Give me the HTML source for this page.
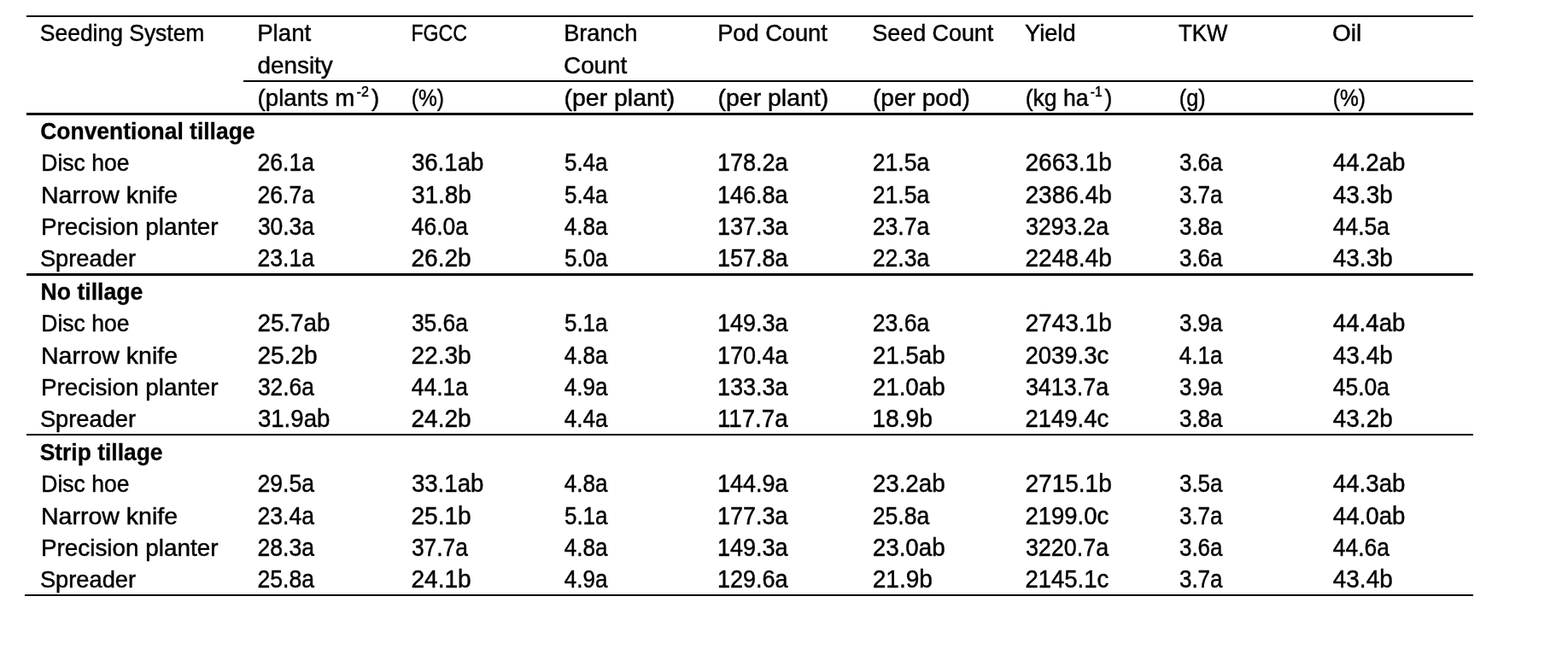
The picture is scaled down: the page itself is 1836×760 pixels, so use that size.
<!DOCTYPE html>
<html lang="en">
<head>
<meta charset="utf-8">
<title>Seeding system results table</title>
<style>
html,body{margin:0;padding:0;background:#fff}
body{width:1836px;height:760px;overflow:hidden;position:relative;color:#000;font-family:"Liberation Sans",sans-serif}
div.wrap{position:absolute;left:31px;top:18px;width:1694px;height:680px}
div.wrap::after{content:"";position:absolute;left:-2px;right:0;top:678px;height:2px;background:#000}
table{width:1694px;border-collapse:separate;border-spacing:0;table-layout:fixed;font-size:27.4px;line-height:30px}
col.c0{width:254px}
col.cn{width:180px}
th,td{box-sizing:border-box;padding:0;margin:0;border:0;text-align:left;vertical-align:top;font-weight:normal;white-space:nowrap;overflow:visible}
td{font-size:28.8px}
tr.h1 th{height:76px;border-top:2px solid #000;padding-top:0px;line-height:37px}
tr.h1 br+.x{position:relative;top:1px}
tr.h2 th{height:38px;border-top:2px solid transparent;padding-top:4px}
tr.h2 th.u{border-top-color:#000}
tr.g th{height:38px;border-top:3px solid #000;font-weight:bold;padding-top:4px}
tr.a th{height:37px;padding-top:6px}
tr.a td{height:37px;padding-top:5px}
tr.b th{height:38px;padding-top:7px}
tr.b td{height:38px;padding-top:6px}
tr.c th{height:38px;padding-top:6px}
tr.c td{height:38px;padding-top:5px}
tr.g3 th{border-top-width:2px;padding-top:5px}
.x{display:inline-block;transform-origin:0 0;white-space:nowrap;-webkit-text-stroke:0.45px #000;}
tr.g .x{-webkit-text-stroke-width:0.3px}
sup{font-size:0.58em;line-height:0;vertical-align:baseline;position:relative;top:-0.7em;margin:0 0.2em 0 0.15em}

</style>
</head>
<body>
<div class="wrap">
<table>
<colgroup><col class="c0"><col class="cn"><col class="cn"><col class="cn"><col class="cn"><col class="cn"><col class="cn"><col class="cn"><col class="cn"></colgroup>
<thead>
<tr class="h1"><th scope="col"><span class="x" style="transform:matrix(0.9654,0,0,1,15.85,0)">Seeding System</span></th><th scope="col"><span class="x" style="transform:matrix(1.0099,0,0,1,16.16,0)">Plant</span><br><span class="x" style="transform:matrix(1.0169,0,0,1,16.49,0)">density</span></th><th scope="col"><span class="x" style="transform:matrix(0.8436,0,0,1,16.51,0)">FGCC</span></th><th scope="col"><span class="x" style="transform:matrix(0.9917,0,0,1,15.20,0)">Branch</span><br><span class="x" style="transform:matrix(1.0156,0,0,1,15.05,0)">Count</span></th><th scope="col"><span class="x" style="transform:matrix(0.9934,0,0,1,15.19,0)">Pod Count</span></th><th scope="col"><span class="x" style="transform:matrix(0.9811,0,0,1,16.34,0)">Seed Count</span></th><th scope="col"><span class="x" style="transform:matrix(0.9947,0,0,1,14.97,0)">Yield</span></th><th scope="col"><span class="x" style="transform:matrix(0.9415,0,0,1,15.00,0)">TKW</span></th><th scope="col"><span class="x" style="transform:matrix(1.0225,0,0,1,15.05,0)">Oil</span></th></tr>
<tr class="h2"><th></th><th class="u"><span class="x" style="transform:matrix(1.0084,0,0,1,16.62,0)">(plants m<sup>-2</sup>)</span></th><th class="u"><span class="x" style="transform:matrix(0.8953,0,0,1,16.77,0)">(%)</span></th><th class="u"><span class="x" style="transform:matrix(1.0381,0,0,1,15.59,0)">(per plant)</span></th><th class="u"><span class="x" style="transform:matrix(1.0381,0,0,1,15.59,0)">(per plant)</span></th><th class="u"><span class="x" style="transform:matrix(1.0257,0,0,1,16.90,0)">(per pod)</span></th><th class="u"><span class="x" style="transform:matrix(0.9695,0,0,1,15.67,0)">(kg ha<sup>-1</sup>)</span></th><th class="u"><span class="x" style="transform:matrix(0.9222,0,0,1,15.73,0)">(g)</span></th><th class="u"><span class="x" style="transform:matrix(0.8953,0,0,1,15.77,0)">(%)</span></th></tr>
</thead>
<tbody>
<tr class="g"><th colspan="9" scope="colgroup"><span class="x" style="transform:matrix(0.9655,0,0,1,16.25,0)">Conventional tillage</span></th></tr>
<tr class="a"><th scope="row"><span class="x" style="transform:matrix(0.9680,0,0,1,17.25,0)">Disc hoe</span></th><td><span class="x" style="transform:matrix(0.9222,0,0,1,16.51,0)">26.1a</span></td><td><span class="x" style="transform:matrix(0.9591,0,0,1,16.90,0)">36.1ab</span></td><td><span class="x" style="transform:matrix(0.9007,0,0,1,15.95,0)">5.4a</span></td><td><span class="x" style="transform:matrix(0.9371,0,0,1,15.01,0)">178.2a</span></td><td><span class="x" style="transform:matrix(0.9222,0,0,1,16.81,0)">21.5a</span></td><td><span class="x" style="transform:matrix(0.9737,0,0,1,15.44,0)">2663.1b</span></td><td><span class="x" style="transform:matrix(0.9007,0,0,1,15.95,0)">3.6a</span></td><td><span class="x" style="transform:matrix(0.9597,0,0,1,15.85,0)">44.2ab</span></td></tr>
<tr class="b"><th scope="row"><span class="x" style="transform:matrix(1.0415,0,0,1,16.99,0)">Narrow knife</span></th><td><span class="x" style="transform:matrix(0.9222,0,0,1,16.51,0)">26.7a</span></td><td><span class="x" style="transform:matrix(0.9683,0,0,1,16.89,0)">31.8b</span></td><td><span class="x" style="transform:matrix(0.9007,0,0,1,15.95,0)">5.4a</span></td><td><span class="x" style="transform:matrix(0.9371,0,0,1,15.01,0)">146.8a</span></td><td><span class="x" style="transform:matrix(0.9222,0,0,1,16.81,0)">21.5a</span></td><td><span class="x" style="transform:matrix(0.9737,0,0,1,15.44,0)">2386.4b</span></td><td><span class="x" style="transform:matrix(0.9007,0,0,1,15.95,0)">3.7a</span></td><td><span class="x" style="transform:matrix(0.9689,0,0,1,15.84,0)">43.3b</span></td></tr>
<tr class="a"><th scope="row"><span class="x" style="transform:matrix(1.0175,0,0,1,16.94,0)">Precision planter</span></th><td><span class="x" style="transform:matrix(0.9164,0,0,1,16.93,0)">30.3a</span></td><td><span class="x" style="transform:matrix(0.9174,0,0,1,16.87,0)">46.0a</span></td><td><span class="x" style="transform:matrix(0.9020,0,0,1,15.87,0)">4.8a</span></td><td><span class="x" style="transform:matrix(0.9371,0,0,1,15.01,0)">137.3a</span></td><td><span class="x" style="transform:matrix(0.9222,0,0,1,16.81,0)">23.7a</span></td><td><span class="x" style="transform:matrix(0.9335,0,0,1,15.92,0)">3293.2a</span></td><td><span class="x" style="transform:matrix(0.9007,0,0,1,15.95,0)">3.8a</span></td><td><span class="x" style="transform:matrix(0.9174,0,0,1,15.87,0)">44.5a</span></td></tr>
<tr class="c"><th scope="row"><span class="x" style="transform:matrix(0.9951,0,0,1,15.93,0)">Spreader</span></th><td><span class="x" style="transform:matrix(0.9222,0,0,1,16.51,0)">23.1a</span></td><td><span class="x" style="transform:matrix(0.9746,0,0,1,16.44,0)">26.2b</span></td><td><span class="x" style="transform:matrix(0.9007,0,0,1,15.95,0)">5.0a</span></td><td><span class="x" style="transform:matrix(0.9371,0,0,1,15.01,0)">157.8a</span></td><td><span class="x" style="transform:matrix(0.9222,0,0,1,16.81,0)">22.3a</span></td><td><span class="x" style="transform:matrix(0.9737,0,0,1,15.44,0)">2248.4b</span></td><td><span class="x" style="transform:matrix(0.9007,0,0,1,15.95,0)">3.6a</span></td><td><span class="x" style="transform:matrix(0.9689,0,0,1,15.84,0)">43.3b</span></td></tr>
<tr class="g"><th colspan="9" scope="colgroup"><span class="x" style="transform:matrix(0.9719,0,0,1,16.57,0)">No tillage</span></th></tr>
<tr class="a"><th scope="row"><span class="x" style="transform:matrix(0.9680,0,0,1,17.25,0)">Disc hoe</span></th><td><span class="x" style="transform:matrix(0.9642,0,0,1,16.46,0)">25.7ab</span></td><td><span class="x" style="transform:matrix(0.9164,0,0,1,16.93,0)">35.6a</span></td><td><span class="x" style="transform:matrix(0.9007,0,0,1,15.95,0)">5.1a</span></td><td><span class="x" style="transform:matrix(0.9371,0,0,1,15.01,0)">149.3a</span></td><td><span class="x" style="transform:matrix(0.9222,0,0,1,16.81,0)">23.6a</span></td><td><span class="x" style="transform:matrix(0.9737,0,0,1,15.44,0)">2743.1b</span></td><td><span class="x" style="transform:matrix(0.9007,0,0,1,15.95,0)">3.9a</span></td><td><span class="x" style="transform:matrix(0.9597,0,0,1,15.85,0)">44.4ab</span></td></tr>
<tr class="b"><th scope="row"><span class="x" style="transform:matrix(1.0415,0,0,1,16.99,0)">Narrow knife</span></th><td><span class="x" style="transform:matrix(0.9746,0,0,1,16.44,0)">25.2b</span></td><td><span class="x" style="transform:matrix(0.9746,0,0,1,16.44,0)">22.3b</span></td><td><span class="x" style="transform:matrix(0.9020,0,0,1,15.87,0)">4.8a</span></td><td><span class="x" style="transform:matrix(0.9371,0,0,1,15.01,0)">170.4a</span></td><td><span class="x" style="transform:matrix(0.9642,0,0,1,16.76,0)">21.5ab</span></td><td><span class="x" style="transform:matrix(0.9538,0,0,1,15.47,0)">2039.3c</span></td><td><span class="x" style="transform:matrix(0.9020,0,0,1,15.87,0)">4.1a</span></td><td><span class="x" style="transform:matrix(0.9689,0,0,1,15.84,0)">43.4b</span></td></tr>
<tr class="a"><th scope="row"><span class="x" style="transform:matrix(1.0175,0,0,1,16.94,0)">Precision planter</span></th><td><span class="x" style="transform:matrix(0.9164,0,0,1,16.93,0)">32.6a</span></td><td><span class="x" style="transform:matrix(0.9174,0,0,1,16.87,0)">44.1a</span></td><td><span class="x" style="transform:matrix(0.9020,0,0,1,15.87,0)">4.9a</span></td><td><span class="x" style="transform:matrix(0.9371,0,0,1,15.01,0)">133.3a</span></td><td><span class="x" style="transform:matrix(0.9642,0,0,1,16.76,0)">21.0ab</span></td><td><span class="x" style="transform:matrix(0.9335,0,0,1,15.92,0)">3413.7a</span></td><td><span class="x" style="transform:matrix(0.9007,0,0,1,15.95,0)">3.9a</span></td><td><span class="x" style="transform:matrix(0.9174,0,0,1,15.87,0)">45.0a</span></td></tr>
<tr class="c"><th scope="row"><span class="x" style="transform:matrix(0.9951,0,0,1,15.93,0)">Spreader</span></th><td><span class="x" style="transform:matrix(0.9591,0,0,1,16.90,0)">31.9ab</span></td><td><span class="x" style="transform:matrix(0.9746,0,0,1,16.44,0)">24.2b</span></td><td><span class="x" style="transform:matrix(0.9020,0,0,1,15.87,0)">4.4a</span></td><td><span class="x" style="transform:matrix(0.9607,0,0,1,14.97,0)">117.7a</span></td><td><span class="x" style="transform:matrix(0.9818,0,0,1,16.23,0)">18.9b</span></td><td><span class="x" style="transform:matrix(0.9538,0,0,1,15.47,0)">2149.4c</span></td><td><span class="x" style="transform:matrix(0.9007,0,0,1,15.95,0)">3.8a</span></td><td><span class="x" style="transform:matrix(0.9689,0,0,1,15.84,0)">43.2b</span></td></tr>
<tr class="g g3"><th colspan="9" scope="colgroup"><span class="x" style="transform:matrix(0.9645,0,0,1,15.67,0)">Strip tillage</span></th></tr>
<tr class="a"><th scope="row"><span class="x" style="transform:matrix(0.9680,0,0,1,17.25,0)">Disc hoe</span></th><td><span class="x" style="transform:matrix(0.9222,0,0,1,16.51,0)">29.5a</span></td><td><span class="x" style="transform:matrix(0.9591,0,0,1,16.90,0)">33.1ab</span></td><td><span class="x" style="transform:matrix(0.9020,0,0,1,15.87,0)">4.8a</span></td><td><span class="x" style="transform:matrix(0.9371,0,0,1,15.01,0)">144.9a</span></td><td><span class="x" style="transform:matrix(0.9642,0,0,1,16.76,0)">23.2ab</span></td><td><span class="x" style="transform:matrix(0.9737,0,0,1,15.44,0)">2715.1b</span></td><td><span class="x" style="transform:matrix(0.9007,0,0,1,15.95,0)">3.5a</span></td><td><span class="x" style="transform:matrix(0.9597,0,0,1,15.85,0)">44.3ab</span></td></tr>
<tr class="b"><th scope="row"><span class="x" style="transform:matrix(1.0415,0,0,1,16.99,0)">Narrow knife</span></th><td><span class="x" style="transform:matrix(0.9222,0,0,1,16.51,0)">23.4a</span></td><td><span class="x" style="transform:matrix(0.9746,0,0,1,16.44,0)">25.1b</span></td><td><span class="x" style="transform:matrix(0.9007,0,0,1,15.95,0)">5.1a</span></td><td><span class="x" style="transform:matrix(0.9371,0,0,1,15.01,0)">177.3a</span></td><td><span class="x" style="transform:matrix(0.9222,0,0,1,16.81,0)">25.8a</span></td><td><span class="x" style="transform:matrix(0.9538,0,0,1,15.47,0)">2199.0c</span></td><td><span class="x" style="transform:matrix(0.9007,0,0,1,15.95,0)">3.7a</span></td><td><span class="x" style="transform:matrix(0.9597,0,0,1,15.85,0)">44.0ab</span></td></tr>
<tr class="a"><th scope="row"><span class="x" style="transform:matrix(1.0175,0,0,1,16.94,0)">Precision planter</span></th><td><span class="x" style="transform:matrix(0.9222,0,0,1,16.51,0)">28.3a</span></td><td><span class="x" style="transform:matrix(0.9164,0,0,1,16.93,0)">37.7a</span></td><td><span class="x" style="transform:matrix(0.9020,0,0,1,15.87,0)">4.8a</span></td><td><span class="x" style="transform:matrix(0.9371,0,0,1,15.01,0)">149.3a</span></td><td><span class="x" style="transform:matrix(0.9642,0,0,1,16.76,0)">23.0ab</span></td><td><span class="x" style="transform:matrix(0.9335,0,0,1,15.92,0)">3220.7a</span></td><td><span class="x" style="transform:matrix(0.9007,0,0,1,15.95,0)">3.6a</span></td><td><span class="x" style="transform:matrix(0.9174,0,0,1,15.87,0)">44.6a</span></td></tr>
<tr class="c"><th scope="row"><span class="x" style="transform:matrix(0.9951,0,0,1,15.93,0)">Spreader</span></th><td><span class="x" style="transform:matrix(0.9222,0,0,1,16.51,0)">25.8a</span></td><td><span class="x" style="transform:matrix(0.9746,0,0,1,16.44,0)">24.1b</span></td><td><span class="x" style="transform:matrix(0.9020,0,0,1,15.87,0)">4.9a</span></td><td><span class="x" style="transform:matrix(0.9371,0,0,1,15.01,0)">129.6a</span></td><td><span class="x" style="transform:matrix(0.9746,0,0,1,16.74,0)">21.9b</span></td><td><span class="x" style="transform:matrix(0.9538,0,0,1,15.47,0)">2145.1c</span></td><td><span class="x" style="transform:matrix(0.9007,0,0,1,15.95,0)">3.7a</span></td><td><span class="x" style="transform:matrix(0.9689,0,0,1,15.84,0)">43.4b</span></td></tr>
</tbody>
</table>
</div>
</body>
</html>
